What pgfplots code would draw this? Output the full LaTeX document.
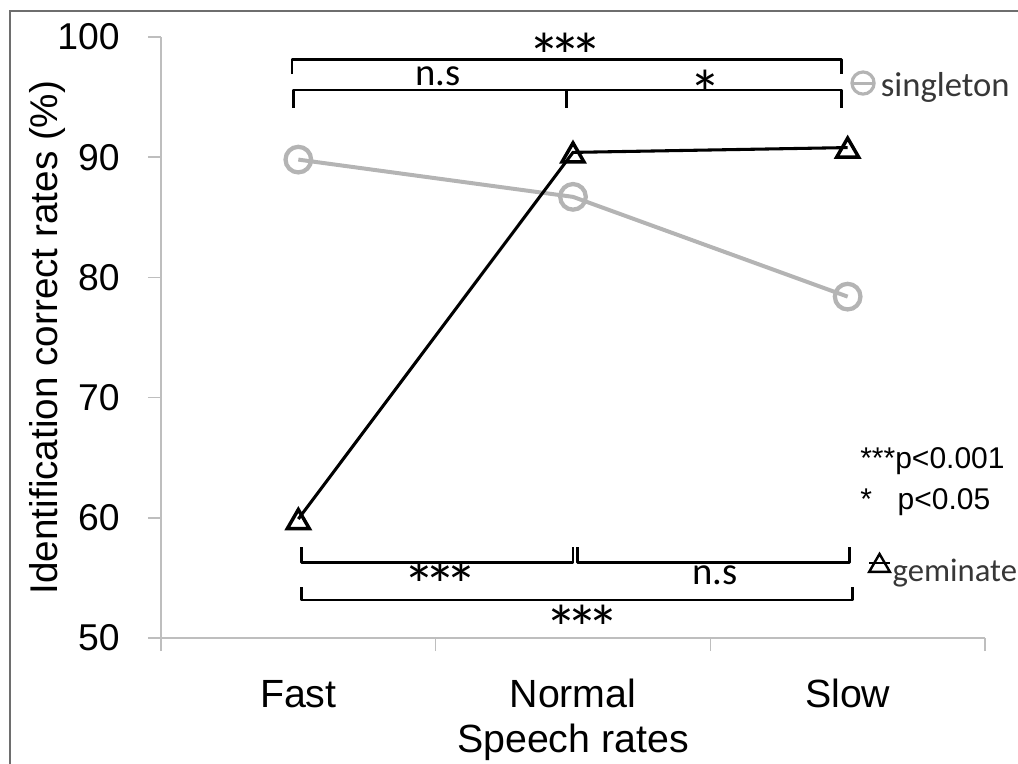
\documentclass[border=0pt]{standalone}
\usepackage{fontspec}
\setmainfont{Liberation Sans}
\newfontfamily\calibri{Carlito}
\usepackage{pgfplots}
\pgfplotsset{compat=1.18}
\definecolor{sing}{RGB}{180,180,180}
\definecolor{legtxt}{RGB}{55,55,55}
\definecolor{axgray}{RGB}{190,190,190}
\definecolor{framegray}{RGB}{110,110,110}
\newcommand\stars{\makebox[15.75pt]{*}\makebox[15.75pt]{*}\makebox[15.75pt]{*}}
\begin{document}
\begin{tikzpicture}
\begin{axis}[
  name=ax, at={(0,0)}, anchor=south west,
  scale only axis, width=618pt, height=450.75pt,
  xmin=-0.5, xmax=2.5, ymin=50, ymax=100,
  clip=false,
  axis lines*=left,
  axis line style={axgray, line width=1.1pt, -},
  xtick={0,1,2}, xticklabels={Fast,Normal,Slow},
  ytick={50,60,...,100},
  minor xtick={-0.5,0.5,1.5,2.5},
  minor ytick={50,60,...,100},
  tick align=outside,
  major tick length=0pt, minor tick length=9.75pt,
  tick style={axgray, line width=1.1pt},
  /pgf/number format/assume math mode=true,
  yticklabel style={anchor=east, inner sep=0pt, xshift=-30.75pt, font=\fontsize{28}{30}\selectfont},
  xticklabel style={anchor=base, inner sep=0pt, yshift=-51.75pt, font=\fontsize{29.5}{31}\selectfont},
  xlabel={Speech rates},
  ylabel={Identification correct rates (\%)},
  xlabel style={at={(axis description cs:0.5,-0.1897)}, anchor=base, inner sep=0pt, font=\fontsize{29.5}{31}\selectfont},
  ylabel style={at={(axis description cs:-0.1262,0.5)}, anchor=base, inner sep=0pt, font=\fontsize{29}{31}\selectfont},
]
\addplot[sing, line width=3pt, mark=o, mark size=9.6pt, mark options={line width=3.2pt}]
  coordinates {(0,89.8)(1,86.7)(2,78.4)};
\addplot[black, line width=2.3pt, mark=triangle, mark size=9.5pt, mark options={line width=2.6pt, yshift=-2.4pt}]
  coordinates {(0,59.9)(1,90.4)(2,90.8)};
% legend-like labels
\addplot[sing, line width=2.2pt, mark=o, mark size=8.3pt, mark indices={2}, mark options={line width=2.4pt}]
  coordinates {(2.016,96.17)(2.056,96.17)(2.096,96.17)};
\addplot[black, line width=1.6pt, mark=triangle, mark size=9pt, mark indices={2}, mark options={line width=1.8pt, yshift=-2.2pt}]
  coordinates {(2.078,56.24)(2.116,56.24)(2.154,56.24)};
\node[font=\calibri\fontsize{26}{28}\selectfont, text=legtxt, anchor=base west, inner sep=0pt] at (axis cs:2.120,95.04) {singleton};
\node[font=\calibri\fontsize{24.5}{26}\selectfont, text=legtxt, anchor=base west, inner sep=0pt] at (axis cs:2.163,54.66) {geminate};
% brackets
\begin{scope}[line width=2.2pt, line join=round]
\draw (axis cs:-0.023,96.92) |- (axis cs:1.976,98.09) -- (axis cs:1.976,96.92);
\draw (axis cs:-0.016,94.13) |- (axis cs:1.976,95.59) -- (axis cs:1.976,94.13);
\draw (axis cs:0.978,95.59) -- (axis cs:0.978,94.13);
\draw (axis cs:0.013,57.57) |- (axis cs:1.000,56.32) -- (axis cs:1.000,57.57);
\draw (axis cs:1.018,57.57) |- (axis cs:2.005,56.32) -- (axis cs:2.005,57.57);
\draw (axis cs:0.013,54.24) |- (axis cs:2.016,53.16) -- (axis cs:2.016,54.24);
\end{scope}
\node[font=\calibri\fontsize{48}{50}\selectfont, anchor=base, inner sep=0pt] at (axis cs:0.971,96.51) {\stars};
\node[font=\calibri\fontsize{29}{30}\selectfont, anchor=base, inner sep=0pt] at (axis cs:0.508,96.0) {n.s};
\node[font=\calibri\fontsize{48}{50}\selectfont, anchor=base, inner sep=0pt] at (axis cs:1.481,93.51) {*};
\node[font=\calibri\fontsize{48}{50}\selectfont, anchor=base, inner sep=0pt] at (axis cs:0.516,52.55) {\stars};
\node[font=\calibri\fontsize{29}{30}\selectfont, anchor=base, inner sep=0pt] at (axis cs:1.517,54.41) {n.s};
\node[font=\calibri\fontsize{48}{50}\selectfont, anchor=base, inner sep=0pt] at (axis cs:1.033,48.96) {\stars};
% p-value key
\node[font=\fontsize{22.5}{24}\selectfont, anchor=base west, inner sep=0pt] at (axis cs:2.045,64.14) {***p<0.001};
\node[font=\fontsize{22.5}{24}\selectfont, anchor=base west, inner sep=0pt] at (axis cs:2.045,60.65) {*};
\node[font=\fontsize{22.5}{24}\selectfont, anchor=base west, inner sep=0pt] at (axis cs:2.181,60.65) {p<0.05};
\end{axis}
\draw[framegray, line width=1pt] ([xshift=-113.25pt,yshift=-94.5pt]ax.south west) -- ([xshift=-113.25pt,yshift=470.25pt]ax.south west) -- ([xshift=642.75pt,yshift=470.25pt]ax.south west);
\pgfresetboundingbox
\path[use as bounding box] ([xshift=-120.75pt,yshift=-94.5pt]ax.south west) rectangle ([xshift=642.75pt,yshift=478.5pt]ax.south west);
\end{tikzpicture}
\end{document}
